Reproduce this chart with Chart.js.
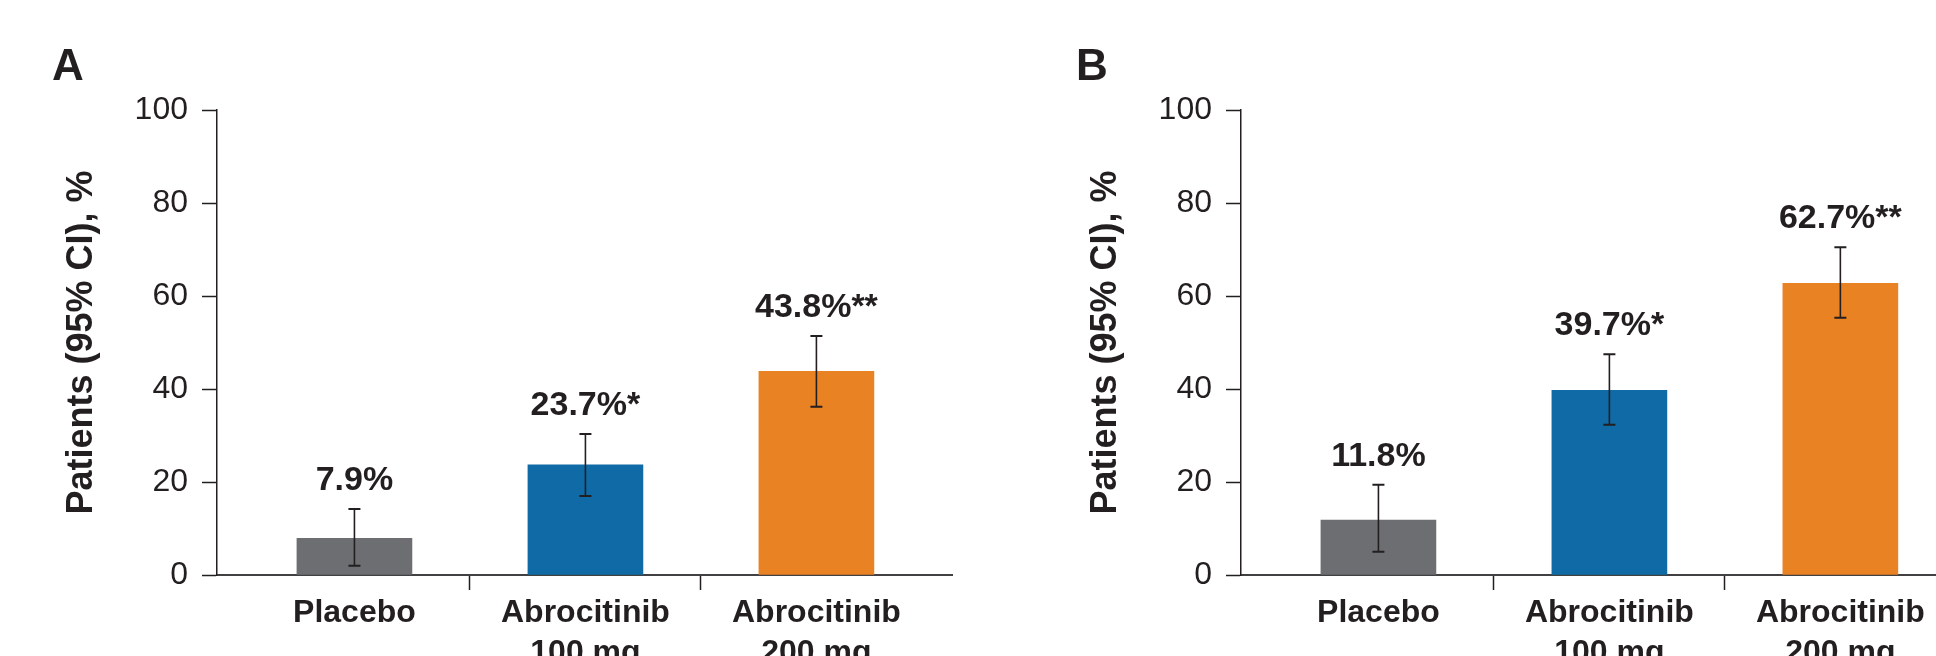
<!DOCTYPE html>
<html lang="en">
<head>
<meta charset="UTF-8">
<title>Abrocitinib response rates</title>
<script src="https://cdn.jsdelivr.net/npm/chart.js"></script>
<style>
  html, body { margin: 0; padding: 0; background: #fff; overflow: hidden; }
  #wrap { position: relative; width: 1936px; height: 656px; overflow: hidden; }
  .panel { position: absolute; top: 0; width: 1024px; height: 656px; }
</style>
</head>
<body>
<div id="wrap">
  <div class="panel" style="left:0"><canvas id="chartA" width="1024" height="656"></canvas></div>
  <div class="panel" style="left:1024px"><canvas id="chartB" width="1024" height="656"></canvas></div>
</div>
<script>
const categories = [["Placebo"], ["Abrocitinib", "100 mg"], ["Abrocitinib", "200 mg"]];
const barColors = ["#6d6e71", "#0f6aa6", "#e98223"];
const yTicks = [0, 20, 40, 60, 80, 100];

// panel A
const valuesA = [7.9, 23.7, 43.8];
const lowA = [2.0, 17.0, 36.2];
const highA = [14.2, 30.3, 51.4];
const labelsA = ["7.9%", "23.7%*", "43.8%**"];

// panel B
const valuesB = [11.8, 39.7, 62.7];
const lowB = [5.0, 32.3, 55.3];
const highB = [19.4, 47.5, 70.5];
const labelsB = ["11.8%", "39.7%*", "62.7%**"];

const FONT = "'Liberation Sans', Arial, Helvetica, sans-serif";
const INK = "#231f20";

const errorBars = {
  id: "errorBars",
  afterDatasetsDraw(chart, args, opts) {
    const { ctx, scales: { x, y } } = chart;
    ctx.save();
    ctx.strokeStyle = INK;
    ctx.fillStyle = INK;
    for (let i = 0; i < opts.low.length; i++) {
      const px = x.getPixelForValue(i);
      const top = y.getPixelForValue(opts.high[i]);
      const bot = y.getPixelForValue(opts.low[i]);
      ctx.lineWidth = 1.6;
      ctx.beginPath();
      ctx.moveTo(px, top);
      ctx.lineTo(px, bot);
      ctx.stroke();
      ctx.lineWidth = 2;
      ctx.beginPath();
      ctx.moveTo(px - 6, top); ctx.lineTo(px + 6, top);
      ctx.moveTo(px - 6, bot); ctx.lineTo(px + 6, bot);
      ctx.stroke();
      ctx.font = "bold 34px " + FONT;
      ctx.textAlign = "center";
      ctx.textBaseline = "alphabetic";
      ctx.fillText(opts.labels[i], px, top - 19);
    }
    ctx.restore();
  }
};

const panelLetter = {
  id: "panelLetter",
  afterDraw(chart, args, opts) {
    const { ctx } = chart;
    ctx.save();
    ctx.fillStyle = INK;
    ctx.font = "bold 44px " + FONT;
    ctx.textAlign = "left";
    ctx.textBaseline = "alphabetic";
    ctx.fillText(opts.text, 52, 80);
    ctx.restore();
  }
};

function isDivider(c) {
  return c && c.tick && !Number.isInteger(c.tick.value);
}

function makeChart(id, letter, values, low, high, labels, xMax, padRight) {
  return new Chart(document.getElementById(id), {
    type: "bar",
    data: {
      datasets: [{
        data: values.map((v, i) => ({ x: i, y: v })),
        backgroundColor: barColors,
        barThickness: 115
      }]
    },
    options: {
      responsive: false,
      animation: false,
      layout: { padding: { top: 110, left: 0, right: padRight, bottom: 0 } },
      plugins: {
        legend: { display: false },
        tooltip: { enabled: false },
        errorBars: { low: low, high: high, labels: labels },
        panelLetter: { text: letter }
      },
      scales: {
        x: {
          type: "linear",
          offset: false,
          min: -0.595,
          max: xMax,
          afterBuildTicks: (scale) => {
            scale.ticks = [0, 0.5, 1, 1.5, 2].map(v => ({ value: v }));
          },
          afterFit: (scale) => { scale.height = 81; },
          grid: {
            offset: false,
            drawOnChartArea: false,
            tickLength: 15,
            tickWidth: 1.5,
            tickColor: (c) => isDivider(c) ? INK : "rgba(0,0,0,0)"
          },
          border: { display: true, color: "#414042", width: 2 },
          ticks: {
            autoSkip: false,
            maxRotation: 0,
            padding: 3,
            color: INK,
            font: { family: FONT, size: 32, weight: "bold", lineHeight: 1.25 },
            callback: (v) => Number.isInteger(v) ? categories[v] : ""
          }
        },
        y: {
          min: 0,
          max: 100,
          afterBuildTicks: (scale) => {
            scale.ticks = yTicks.map(v => ({ value: v }));
          },
          afterFit: (scale) => { scale.width = 217; },
          grid: {
            drawOnChartArea: false,
            tickLength: 15,
            tickWidth: 1.5,
            tickColor: INK
          },
          border: { display: true, color: INK, width: 1.5 },
          ticks: {
            padding: 14,
            color: INK,
            font: { family: FONT, size: 32 }
          },
          title: {
            display: true,
            text: "Patients (95% CI), %",
            color: INK,
            font: { family: FONT, size: 36, weight: "bold" },
            padding: { top: 60, bottom: 0 }
          }
        }
      }
    },
    plugins: [errorBars, panelLetter]
  });
}

makeChart("chartA", "A", valuesA, lowA, highA, labelsA, 2.587, 72);
makeChart("chartB", "B", valuesB, lowB, highB, labelsB, 2.899, 0);
</script>
</body>
</html>
